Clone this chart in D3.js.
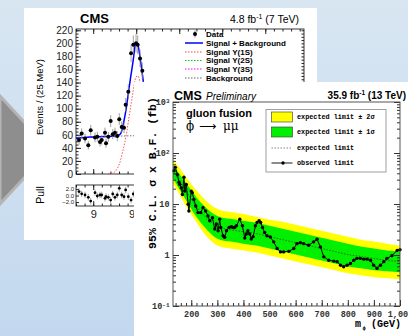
<!DOCTYPE html>
<html>
<head>
<meta charset="utf-8">
<script src="https://cdn.jsdelivr.net/npm/d3@7"></script>
<style>
  body { margin: 0; overflow: hidden; }
  svg { display: block; }
</style>
</head>
<body>
<div id="chart"></div>
<script>
// ---- back plot: CMS 7 TeV dimuon spectrum near the Upsilon(1S) ----
const dataMass = [8.835, 8.866, 8.905, 8.943, 8.971, 9.021, 9.048, 9.079, 9.099, 9.137, 9.149, 9.176, 9.203, 9.227,
                  9.253, 9.280, 9.303, 9.331, 9.358, 9.377, 9.408, 9.440, 9.466, 9.498, 9.517, 9.544, 9.571];
const dataEvents = [52, 62, 54.5, 44, 67, 56, 57, 49, 52, 63, 47, 57, 81, 61,
                    63, 58, 84, 72, 71, 106, 126, 185, 198, 200, 198, 177, 158];
const dataPull = [1.2, 0.5, 0.15, -0.55, -1.7, 0.85, -0.15, 0.15, 0.15, -0.85, -0.35, -0.55, -1.4, 0.45,
                  -0.55, 0.15, 2.2, 0.15, -0.35, 1.7, -0.35, -1.4, 0.45, -0.35, -0.65, 1.45, 0.3];
const sbMass = [8.80, 8.963, 9.137, 9.253, 9.300, 9.323, 9.343, 9.364, 9.381, 9.408, 9.436, 9.466, 9.485, 9.503, 9.520, 9.544, 9.562, 9.583];
const sbEvents = [55, 56.6, 57.4, 58.2, 59.7, 62.8, 72.4, 85.7, 98, 123.5, 149, 175, 194.5, 201, 197.5, 179, 162, 141];
const sig1Mass = [9.172, 9.230, 9.277, 9.312, 9.335, 9.364, 9.393, 9.422, 9.451, 9.474, 9.498, 9.521, 9.544, 9.567, 9.602];
const sig1Events = [0, 1.5, 7.7, 18.4, 30.6, 46, 67, 92, 116, 135, 149, 150, 141, 129, 107];
const bkgMass = [8.8, 9.3, 9.8, 10.5, 11.45];
const bkgEvents = [55, 58, 59, 57, 52];
const yTicks1 = [0, 20, 40, 60, 80, 100, 120, 140, 160, 180, 200, 220];
const xTicks1 = [9, 9.5, 10, 10.5, 11];
const pullTicks = [-2, 0, 2];
const legend1 = ['Data', 'Signal + Background', 'Signal \u03a5(1S)', 'Signal \u03a5(2S)', 'Signal \u03a5(3S)', 'Background'];

// ---- front plot: CMS phi -> mumu limits, 13 TeV ----
const bandMass = [130, 150, 175, 200, 225, 250, 275, 300, 350, 400, 450, 500, 550, 600, 650, 700, 750, 800, 850, 900, 950, 1000];
const expLimit = [43.7, 30.6, 19.6, 12.5, 8.37, 5.85, 4.47, 3.58, 3.13, 2.86, 2.62, 2.29, 2.00, 1.75, 1.53, 1.34, 1.17, 1.02, 0.936, 0.856, 0.782, 0.748];
const up1 = [57.2, 41.8, 28.0, 18.7, 12.5, 9.15, 7.00, 5.85, 5.12, 4.68, 4.28, 3.74, 3.27, 2.86, 2.50, 2.19, 1.91, 1.67, 1.46, 1.34, 1.22, 1.17];
const dn1 = [32.0, 21.4, 13.1, 8.00, 5.12, 3.58, 2.62, 2.09, 1.83, 1.67, 1.53, 1.34, 1.17, 1.02, 0.895, 0.782, 0.684, 0.598, 0.547, 0.500, 0.479, 0.458];
const up2 = [74.8, 54.7, 36.6, 24.5, 17.1, 12.5, 9.57, 8.00, 7.00, 6.40, 5.60, 4.89, 4.47, 3.91, 3.42, 2.99, 2.62, 2.29, 2.00, 1.83, 1.67, 1.53];
const dn2 = [25.6, 17.1, 10.0, 6.30, 4.00, 2.62, 1.91, 1.53, 1.34, 1.22, 1.12, 0.979, 0.856, 0.748, 0.655, 0.572, 0.500, 0.438, 0.400, 0.366, 0.350, 0.335];
const obsMass = [134, 139, 147, 153, 156, 162, 166, 172, 175, 181, 188, 191, 200, 204, 210, 217, 226, 236, 245, 255,
                 264, 271, 281, 290, 296, 303, 309, 313, 322, 328, 335, 345, 354, 360, 366, 373, 386, 396, 405, 411,
                 417, 424, 430, 437, 446, 452, 460, 466, 473, 481, 490, 503, 516, 529, 542, 554, 574, 593, 605, 618,
                 631, 650, 669, 682, 695, 708, 727, 746, 759, 772, 784, 797, 810, 823, 835, 848, 861, 874, 887, 899,
                 912, 925, 938, 950, 969, 989, 1000];
const obsLimit = [45.1, 52.3, 37.7, 26.7, 24.1, 20.7, 15.4, 33.4, 17.9, 24.1, 9.87, 7.31, 17.9, 16.6, 12.3, 9.15, 6.78, 6.78, 8.48, 7.31,
                  5.85, 4.68, 5.40, 3.23, 4.04, 2.99, 5.03, 3.47, 2.39, 2.22, 2.99, 3.47, 3.58, 3.47, 3.47, 3.74, 5.03, 3.74, 2.16, 2.58,
                  2.99, 2.58, 2.06, 2.29, 3.74, 4.34, 4.68, 4.34, 3.47, 2.77, 2.39, 2.25, 1.81, 1.34, 1.15, 1.15, 1.18, 1.34, 1.67, 1.75,
                  1.67, 1.55, 1.81, 2.03, 1.44, 0.92, 0.79, 0.76, 0.74, 0.63, 0.59, 0.63, 0.68, 0.79, 0.86, 0.86, 0.83, 0.83, 0.79, 0.63,
                  0.55, 0.63, 0.74, 0.86, 0.97, 1.23, 1.27];
const yTicks2 = [0.1, 1, 10, 100, 1000];
const yLabels2 = [['10', '-1'], ['1', ''], ['10', ''], ['10', '2'], ['10', '3']];
const xTicks2 = [200, 300, 400, 500, 600, 700, 800, 900, 1000];
const legend2 = ['expected limit \u00b1 2\u03c3', 'expected limit \u00b1 1\u03c3', 'expected limit', 'observed limit'];

const sans = 'Liberation Sans, Arial, sans-serif';
const mono = 'Liberation Mono, Courier New, monospace';

const svg = d3.select('#chart').append('svg').attr('width', 408).attr('height', 336);
const defs = svg.append('defs');

const bg = defs.append('linearGradient').attr('id', 'bg').attr('x1', 0).attr('y1', 0).attr('x2', 0).attr('y2', 1);
bg.append('stop').attr('offset', '0%').attr('stop-color', '#d8e6f2');
bg.append('stop').attr('offset', '100%').attr('stop-color', '#c3d8ee');
svg.append('rect').attr('width', 408).attr('height', 336).attr('fill', 'url(#bg)');

// grey arrow behind the slides
svg.append('path').attr('d', 'M0,96 L50,150 L0,204 Z')
  .attr('fill', '#8e8e8e').attr('stroke', '#b4b4b4').attr('stroke-width', 3);

// clean up an axis group: no domain, our colour and font
function styleAxis(g, font, size, color) {
  g.select('.domain').remove();
  g.attr('font-family', font).attr('font-size', size).attr('color', color || '#222');
}

// =================== panel 1 ===================
const p1 = svg.append('g');
p1.append('rect').attr('x', 24).attr('y', 8).attr('width', 293).attr('height', 232).attr('fill', '#fff');

const x1 = d3.scaleLinear().domain([8.8, 11.45]).range([76, 304]);
const y1 = d3.scaleLinear().domain([0, 222]).range([174, 29]);
const yp = d3.scaleLinear().domain([-3.2, 3.2]).range([206, 185]);

defs.append('clipPath').attr('id', 'clip1').append('rect').attr('x', 76).attr('y', 29).attr('width', 228).attr('height', 145);

// ticks
p1.append('g').attr('transform', 'translate(76,0)')
  .call(d3.axisLeft(y1).tickValues(yTicks1).tickSize(-5).tickPadding(3))
  .call(g => styleAxis(g, sans, 10));
p1.append('g').attr('transform', 'translate(76,0)')
  .call(d3.axisLeft(y1).tickValues(d3.range(0, 222, 5)).tickSize(-2.5).tickFormat(''))
  .call(g => styleAxis(g, sans, 10));
p1.append('g').attr('transform', 'translate(304,0)')
  .call(d3.axisRight(y1).tickValues(d3.range(0, 222, 5)).tickSize(-2.5).tickFormat(''))
  .call(g => styleAxis(g, sans, 10));
[[174, 'b'], [29, 't'], [206, 'b'], [185, 't']].forEach(([ty, side]) => {
  const ax = side === 'b' ? d3.axisBottom(x1) : d3.axisTop(x1);
  p1.append('g').attr('transform', `translate(0,${ty})`)
    .call(ax.tickValues(xTicks1).tickSize(-5).tickFormat(''))
    .call(g => styleAxis(g, sans, 10));
  const ax2 = side === 'b' ? d3.axisBottom(x1) : d3.axisTop(x1);
  p1.append('g').attr('transform', `translate(0,${ty})`)
    .call(ax2.tickValues(d3.range(8.8, 11.45, 0.1)).tickSize(-2.5).tickFormat(''))
    .call(g => styleAxis(g, sans, 10));
});
p1.append('g').attr('transform', 'translate(0,206)')
  .call(d3.axisBottom(x1).tickValues(xTicks1).tickSize(0).tickPadding(4).tickFormat(d3.format('')))
  .call(g => styleAxis(g, sans, 11));
p1.append('g').attr('transform', 'translate(76,0)')
  .call(d3.axisLeft(yp).tickValues(pullTicks).tickSize(-3).tickPadding(2))
  .call(g => styleAxis(g, sans, 6));

p1.append('rect').attr('x', 76).attr('y', 29).attr('width', 228).attr('height', 145)
  .attr('fill', 'none').attr('stroke', '#222').attr('stroke-width', 0.9);
p1.append('rect').attr('x', 76).attr('y', 185).attr('width', 228).attr('height', 21)
  .attr('fill', 'none').attr('stroke', '#222').attr('stroke-width', 0.9);

const plot1 = p1.append('g').attr('clip-path', 'url(#clip1)');
const line1 = d3.line().x(d => x1(d[0])).y(d => y1(d[1])).curve(d3.curveMonotoneX);
plot1.append('path').datum(d3.zip(bkgMass, bkgEvents)).attr('d', line1)
  .attr('fill', 'none').attr('stroke', '#666').attr('stroke-width', 0.9).attr('stroke-dasharray', '1.5,1.5');
plot1.append('path').datum(d3.zip(sig1Mass, sig1Events)).attr('d', line1)
  .attr('fill', 'none').attr('stroke', '#ff4040').attr('stroke-width', 0.9).attr('stroke-dasharray', '1.5,1.5');
plot1.append('path').datum(d3.zip(sbMass, sbEvents)).attr('d', line1)
  .attr('fill', 'none').attr('stroke', '#0000ff').attr('stroke-width', 1.5);

const pts1 = d3.zip(dataMass, dataEvents);
plot1.selectAll('line.err').data(pts1).join('line').attr('class', 'err')
  .attr('x1', d => x1(d[0])).attr('x2', d => x1(d[0]))
  .attr('y1', d => y1(d[1] - Math.sqrt(d[1]))).attr('y2', d => y1(d[1] + Math.sqrt(d[1])))
  .attr('stroke', '#888').attr('stroke-width', 0.8);
plot1.selectAll('circle.pt').data(pts1).join('circle').attr('class', 'pt')
  .attr('cx', d => x1(d[0])).attr('cy', d => y1(d[1])).attr('r', 2).attr('fill', '#000');

const pulls = d3.zip(dataMass, dataPull);
p1.selectAll('line.perr').data(pulls).join('line').attr('class', 'perr')
  .attr('x1', d => x1(d[0])).attr('x2', d => x1(d[0]))
  .attr('y1', d => yp(d[1] - 1)).attr('y2', d => yp(d[1] + 1))
  .attr('stroke', '#888').attr('stroke-width', 0.7);
p1.selectAll('circle.ppt').data(pulls).join('circle').attr('class', 'ppt')
  .attr('cx', d => x1(d[0])).attr('cy', d => yp(d[1])).attr('r', 1.4).attr('fill', '#000');

// titles
p1.append('text').attr('x', 80).attr('y', 23).attr('font-family', sans).attr('font-weight', 'bold')
  .attr('font-size', 13).text('CMS');
const lumi1 = p1.append('text').attr('x', 299).attr('y', 23).attr('text-anchor', 'end')
  .attr('font-family', sans).attr('font-size', 10.5);
lumi1.append('tspan').text('4.8 fb');
lumi1.append('tspan').attr('dy', -4).attr('font-size', 7).text('-1');
lumi1.append('tspan').attr('dy', 4).text(' (7 TeV)');
p1.append('text').attr('transform', 'translate(42.5,97) rotate(-90)').attr('text-anchor', 'middle')
  .attr('font-family', sans).attr('font-size', 9.5).text('Events / (25 MeV)');
p1.append('text').attr('transform', 'translate(44,195) rotate(-90)').attr('text-anchor', 'middle')
  .attr('font-family', sans).attr('font-size', 10.5).text('Pull');

// legend
const lg1 = p1.append('g');
const legRows = [34, 43, 52, 60.5, 69, 78];
const legStyle = [null, ['#0000ff', null, 1.5], ['#ff4040', '1.5,1.5', 1], ['#00cc00', '1.5,1.5', 1], ['#ff00ff', '1.5,1.5', 1], ['#666', '1.5,1.5', 1]];
legend1.forEach((t, i) => {
  const y = legRows[i];
  if (i === 0) {
    lg1.append('line').attr('x1', 195).attr('x2', 195).attr('y1', y - 3.5).attr('y2', y + 3.5).attr('stroke', '#888');
    lg1.append('circle').attr('cx', 195).attr('cy', y).attr('r', 2).attr('fill', '#000');
  } else {
    lg1.append('line').attr('x1', 185).attr('x2', 203).attr('y1', y).attr('y2', y)
      .attr('stroke', legStyle[i][0]).attr('stroke-dasharray', legStyle[i][1]).attr('stroke-width', legStyle[i][2]);
  }
  lg1.append('text').attr('x', 206).attr('y', y).attr('dy', '0.35em').attr('font-family', sans)
    .attr('font-weight', 'bold').attr('font-size', 8).text(t);
});

// =================== panel 2 ===================
const p2 = svg.append('g');
p2.append('rect').attr('x', 134).attr('y', 82).attr('width', 274).attr('height', 254).attr('fill', '#fff');

const x2 = d3.scaleLinear().domain([130, 1000]).range([173, 400]);
const y2 = d3.scaleLog().domain([0.1, 1000]).range([306, 102]);

const band = bandMass.map((m, i) => ({ m, e: expLimit[i], u1: up1[i], d1: dn1[i], u2: up2[i], d2: dn2[i] }));
p2.append('path').datum(band)
  .attr('d', d3.area().x(d => x2(d.m)).y0(d => y2(d.d2)).y1(d => y2(d.u2)).curve(d3.curveMonotoneX))
  .attr('fill', '#ffff00');
p2.append('path').datum(band)
  .attr('d', d3.area().x(d => x2(d.m)).y0(d => y2(d.d1)).y1(d => y2(d.u1)).curve(d3.curveMonotoneX))
  .attr('fill', '#00f000');
p2.append('path').datum(band)
  .attr('d', d3.line().x(d => x2(d.m)).y(d => y2(d.e)).curve(d3.curveMonotoneX))
  .attr('fill', 'none').attr('stroke', '#333').attr('stroke-width', 0.7).attr('stroke-dasharray', '1.5,1.5');

const obs = d3.zip(obsMass, obsLimit);
p2.append('path').datum(obs).attr('d', d3.line().x(d => x2(d[0])).y(d => y2(d[1])))
  .attr('fill', 'none').attr('stroke', '#000').attr('stroke-width', 1);
p2.selectAll('circle.obs').data(obs).join('circle').attr('class', 'obs')
  .attr('cx', d => x2(d[0])).attr('cy', d => y2(d[1])).attr('r', 1.7).attr('fill', '#000');

// axes and frame
const minorY = [];
[0.1, 1, 10, 100].forEach(k => { for (let j = 2; j <= 9; j++) minorY.push(k * j); });
p2.append('g').attr('transform', 'translate(173,0)')
  .call(d3.axisLeft(y2).tickValues(yTicks2).tickSize(-6).tickPadding(3.5))
  .call(g => styleAxis(g, mono, 8.5, '#333'))
  .call(g => g.selectAll('.tick text').attr('font-weight', 'bold').each(function (d, i) {
    const t = d3.select(this).text(null);
    t.append('tspan').text(yLabels2[i][0]);
    if (yLabels2[i][1]) t.append('tspan').attr('dy', '-0.45em').attr('font-size', 6).text(yLabels2[i][1]);
  }));
p2.append('g').attr('transform', 'translate(173,0)')
  .call(d3.axisLeft(y2).tickValues(minorY).tickSize(-3).tickFormat(''))
  .call(g => styleAxis(g, mono, 8.5, '#333'));
p2.append('g').attr('transform', 'translate(400,0)')
  .call(d3.axisRight(y2).tickValues(yTicks2).tickSize(-6).tickFormat(''))
  .call(g => styleAxis(g, mono, 8.5, '#333'));
p2.append('g').attr('transform', 'translate(400,0)')
  .call(d3.axisRight(y2).tickValues(minorY).tickSize(-3).tickFormat(''))
  .call(g => styleAxis(g, mono, 8.5, '#333'));
p2.append('g').attr('transform', 'translate(0,306)')
  .call(d3.axisBottom(x2).tickValues(xTicks2).tickSize(-6).tickPadding(4.5))
  .call(g => styleAxis(g, mono, 8.5, '#333'))
  .call(g => g.selectAll('.tick text').attr('font-weight', 'bold'));
p2.append('g').attr('transform', 'translate(0,306)')
  .call(d3.axisBottom(x2).tickValues(d3.range(140, 1000, 20)).tickSize(-3).tickFormat(''))
  .call(g => styleAxis(g, mono, 8.5, '#333'));
p2.append('rect').attr('x', 173).attr('y', 102).attr('width', 227).attr('height', 204)
  .attr('fill', 'none').attr('stroke', '#444').attr('stroke-width', 0.9);

// titles
p2.append('text').attr('x', 174).attr('y', 100).attr('font-family', sans).attr('font-weight', 'bold')
  .attr('font-size', 12.5).text('CMS');
p2.append('text').attr('x', 206).attr('y', 100).attr('font-family', sans).attr('font-style', 'italic')
  .attr('font-size', 10).text('Preliminary');
const lumi2 = p2.append('text').attr('x', 406).attr('y', 99).attr('text-anchor', 'end')
  .attr('font-family', sans).attr('font-weight', 'bold').attr('font-size', 10);
lumi2.append('tspan').text('35.9 fb');
lumi2.append('tspan').attr('dy', -4).attr('font-size', 6.5).text('-1');
lumi2.append('tspan').attr('dy', 4).text(' (13 TeV)');
p2.append('text').attr('x', 186).attr('y', 117).attr('font-family', sans).attr('font-weight', 'bold')
  .attr('font-size', 11).text('gluon fusion');
p2.append('text').attr('x', 186).attr('y', 130).attr('font-family', 'DejaVu Serif, serif').attr('font-size', 12).text('\u03d5');
p2.append('text').attr('x', 199).attr('y', 130).attr('font-family', 'DejaVu Sans, sans-serif').attr('font-size', 12).text('\u27f6');
p2.append('text').attr('x', 223).attr('y', 130).attr('font-family', 'DejaVu Serif, serif').attr('font-size', 12).text('\u03bc\u03bc');

p2.append('text').attr('transform', 'translate(156,173) rotate(-90)').attr('text-anchor', 'middle')
  .attr('font-family', mono).attr('font-weight', 'bold').attr('font-size', 11.5)
  .text('95% C.L. \u03c3 x B.F. (fb)');
p2.append('text').attr('x', 355).attr('y', 327).attr('font-family', mono).attr('font-weight', 'bold')
  .attr('font-size', 10).text('m');
p2.append('text').attr('x', 362.5).attr('y', 330).attr('font-family', mono).attr('font-weight', 'bold')
  .attr('font-size', 5.5).text('\u03d5');
p2.append('text').attr('x', 401).attr('y', 327).attr('text-anchor', 'end').attr('font-family', mono)
  .attr('font-weight', 'bold').attr('font-size', 10).text('(GeV)');

// legend
const lg2 = p2.append('g');
lg2.append('rect').attr('x', 266).attr('y', 109.5).attr('width', 120).attr('height', 62.5)
  .attr('fill', '#fff').attr('stroke', '#888').attr('stroke-width', 0.8);
lg2.append('rect').attr('x', 271.5).attr('y', 112).attr('width', 21).attr('height', 10)
  .attr('fill', '#ffff00').attr('stroke', '#333').attr('stroke-width', 0.6);
lg2.append('rect').attr('x', 271.5).attr('y', 127).attr('width', 21).attr('height', 10)
  .attr('fill', '#00f000').attr('stroke', '#333').attr('stroke-width', 0.6);
lg2.append('line').attr('x1', 271.5).attr('x2', 291.5).attr('y1', 148).attr('y2', 148)
  .attr('stroke', '#555').attr('stroke-width', 0.7).attr('stroke-dasharray', '1.5,1.5');
lg2.append('line').attr('x1', 271.5).attr('x2', 292.5).attr('y1', 163).attr('y2', 163)
  .attr('stroke', '#000').attr('stroke-width', 0.9);
lg2.append('circle').attr('cx', 283).attr('cy', 163).attr('r', 1.7).attr('fill', '#000');
[117, 132, 148, 163].forEach((y, i) => {
  lg2.append('text').attr('x', 297).attr('y', y).attr('dy', '0.35em').attr('font-family', mono)
    .attr('font-weight', 'bold').attr('font-size', 6.8).text(legend2[i]);
});
</script>
</body>
</html>
